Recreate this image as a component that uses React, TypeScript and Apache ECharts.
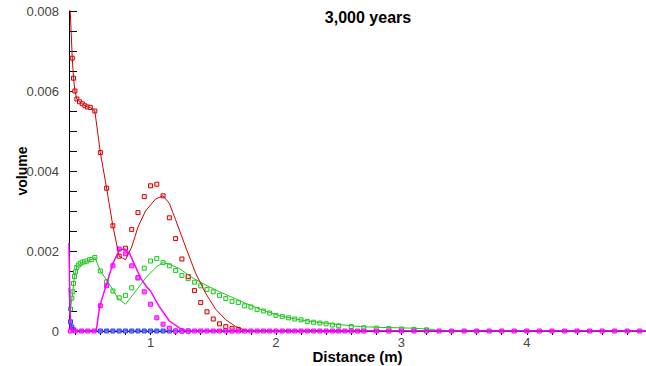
import React, { useEffect, useRef } from "react";
import * as echarts from "echarts";

const titleText = "3,000 years";
const xName = "Distance (m)";
const yName = "volume";
const xLabelValues = [1, 2, 3, 4];
const xTickValues = [0.4, 0.6, 0.8, 1.0, 1.2, 1.4, 1.6, 1.8, 2.0, 2.2, 2.4, 2.6, 2.8, 3.0, 3.2, 3.4, 3.6, 3.8, 4.0, 4.2, 4.4, 4.6, 4.8];

// red: model line and observed squares
const redLine: number[][] = [
  [0.352, 0.0086], [0.376, 0.00682], [0.386, 0.00632], [0.397, 0.006], [0.413, 0.0058], [0.434, 0.00573],
  [0.456, 0.00568], [0.477, 0.00563], [0.498, 0.0056], [0.52, 0.00559], [0.556, 0.0055], [0.6, 0.00446],
  [0.65, 0.00357], [0.7, 0.00262], [0.75, 0.00187], [0.8, 0.00178], [0.85, 0.0021], [0.9, 0.0026],
  [0.96, 0.003], [1.04, 0.0033], [1.1, 0.00338], [1.15, 0.00319], [1.2, 0.00278], [1.28, 0.0021],
  [1.36, 0.00144], [1.44, 0.00094], [1.52, 0.00054], [1.6, 0.00028], [1.68, 0.00011], [1.75, 0.00002],
  [1.8, 0], [4.95, 0],
];
const redPts: number[][] = [
  [0.376, 0.00682], [0.386, 0.00632], [0.397, 0.006], [0.413, 0.0058], [0.434, 0.00573], [0.456, 0.00568],
  [0.477, 0.00563], [0.498, 0.0056], [0.52, 0.00559], [0.556, 0.0055], [0.6, 0.00446], [0.65, 0.00357],
  [0.7, 0.00263], [0.75, 0.00187], [0.8, 0.00207], [0.85, 0.00254], [0.9, 0.00296], [0.95, 0.00336],
  [1.0, 0.00363], [1.05, 0.00367], [1.1, 0.00338], [1.15, 0.00283], [1.2, 0.00231], [1.25, 0.0018],
  [1.3, 0.00136], [1.35, 0.00101], [1.4, 0.00071], [1.45, 0.00048], [1.5, 0.0003], [1.55, 0.00018],
  [1.6, 0.00011], [1.65, 0.00006], [1.7, 0.00004],
];

// green
const greenLine: number[][] = [
  [0.352, 0.0004], [0.362, 0.00055], [0.373, 0.00082], [0.381, 0.00098], [0.386, 0.00119], [0.394, 0.00136],
  [0.402, 0.00148], [0.412, 0.00159], [0.426, 0.00165], [0.44, 0.00169], [0.456, 0.00172], [0.474, 0.00173],
  [0.492, 0.00175], [0.514, 0.00178], [0.532, 0.00179], [0.556, 0.00184], [0.6, 0.0015], [0.66, 0.00123],
  [0.74, 0.00082], [0.8, 0.00067], [0.89, 0.00103], [0.97, 0.00136], [1.05, 0.00161], [1.1, 0.00171],
  [1.15, 0.00167], [1.23, 0.00156], [1.34, 0.00132], [1.44, 0.00115], [1.55, 0.00098], [1.66, 0.00083],
  [1.76, 0.00069], [1.87, 0.00055], [2.03, 0.00038], [2.19, 0.00028], [2.35, 0.00021], [2.51, 0.00016],
  [2.67, 0.00011], [2.83, 0.00009], [2.98, 0.00008], [3.09, 0.00007], [3.25, 0.00004], [3.3, 0], [4.95, 0],
];
const greenPts: number[][] = [
  [0.362, 0.00055], [0.373, 0.00082], [0.381, 0.00098], [0.386, 0.00119], [0.394, 0.00136], [0.402, 0.00148],
  [0.412, 0.00159], [0.426, 0.00165], [0.44, 0.00169], [0.456, 0.00172], [0.474, 0.00173], [0.492, 0.00175],
  [0.514, 0.00178], [0.532, 0.00179], [0.556, 0.00184], [0.6, 0.0015], [0.65, 0.00123], [0.7, 0.001],
  [0.75, 0.00083], [0.8, 0.00089], [0.85, 0.00108], [0.9, 0.00133], [0.95, 0.00157], [1.0, 0.00175],
  [1.05, 0.00181], [1.1, 0.00171], [1.15, 0.00163], [1.2, 0.00151], [1.25, 0.00139], [1.3, 0.00131],
  [1.35, 0.00122], [1.4, 0.00113], [1.45, 0.00104], [1.5, 0.00098], [1.55, 0.00089], [1.6, 0.00081],
  [1.65, 0.00074], [1.7, 0.00071], [1.75, 0.00063], [1.8, 0.0006], [1.85, 0.00054], [1.9, 0.0005],
  [1.95, 0.00045], [2.0, 0.00039], [2.05, 0.00036], [2.1, 0.00033], [2.15, 0.0003], [2.2, 0.00028],
  [2.25, 0.00024], [2.3, 0.00022], [2.35, 0.0002], [2.4, 0.00018], [2.45, 0.00015], [2.5, 0.00013],
  [2.6, 0.00011], [2.7, 0.00008], [2.8, 0.00007], [2.9, 0.00006], [3.0, 0.00005], [3.1, 0.00004],
  [3.2, 0.00003],
];

// magenta
const magentaLine: number[][] = [
  [0.349, 0.0022], [0.355, 0.0012], [0.362, 0.0001], [0.37, 0], [0.567, 0], [0.594, 0.00061],
  [0.65, 0.00118], [0.7, 0.00169], [0.753, 0.00203], [0.793, 0.00205], [0.833, 0.00194], [0.92, 0.00133],
  [0.97, 0.0011], [1.0, 0.001], [1.07, 0.00061], [1.15, 0.00025], [1.23, 0.00008], [1.28, 0], [4.95, 0],
];
const magentaPts: number[][] = [
  [0.349, 0.0022], [0.36, 0], [0.4, 0], [0.45, 0], [0.5, 0], [0.55, 0], [0.6, 0.00063], [0.65, 0.00113],
  [0.7, 0.00163], [0.75, 0.00205], [0.8, 0.00193], [0.85, 0.00163], [0.9, 0.00133], [0.95, 0.00098],
  [1.0, 0.00067], [1.05, 0.00033], [1.1, 0.00017], [1.15, 0.00007], [1.2, 0], [1.25, 0], [1.3, 0],
  [1.35, 0], [1.4, 0], [1.45, 0], [1.5, 0], [1.55, 0], [1.6, 0], [1.65, 0], [1.7, 0], [1.75, 0], [1.8, 0],
  [1.85, 0], [1.9, 0], [1.95, 0], [2.0, 0], [2.05, 0], [2.1, 0], [2.15, 0], [2.2, 0], [2.25, 0], [2.3, 0],
  [2.35, 0], [2.4, 0], [2.45, 0], [2.5, 0], [2.55, 0], [2.6, 0], [2.65, 0], [2.7, 0], [2.8, 0], [2.9, 0],
  [3.0, 0], [3.1, 0], [3.2, 0], [3.3, 0], [3.4, 0], [3.5, 0], [3.6, 0], [3.7, 0], [3.8, 0], [3.9, 0],
  [4.0, 0], [4.1, 0], [4.2, 0], [4.3, 0], [4.4, 0], [4.5, 0], [4.6, 0], [4.7, 0], [4.8, 0], [4.9, 0],
];

// blue
const blueLine: number[][] = [
  [0.349, 0.00108], [0.362, 0.00023], [0.373, 0.0001], [0.4, 0], [4.95, 0],
];
const bluePts: number[][] = [
  [0.349, 0.00108], [0.362, 0.00023], [0.373, 0.0001], [0.386, 0.00003], [0.6, 0], [0.65, 0], [0.7, 0],
  [0.75, 0], [0.8, 0], [0.85, 0], [0.9, 0], [0.95, 0], [1.0, 0], [1.05, 0], [1.1, 0], [1.15, 0], [1.2, 0],
  [1.25, 0], [1.3, 0],
];

const RED = "#d40000";
const GREEN = "#22c422";
const MAGENTA = "#ff00ff";
const BLUE = "#2b3cf0";

function lineSeries(data: number[][], color: string, width = 1) {
  return {
    type: "line",
    data,
    showSymbol: false,
    symbol: "none",
    lineStyle: { color, width },
    itemStyle: { color },
    silent: true,
  };
}
function ptSeries(data: number[][], color: string, fill: string) {
  return {
    type: "scatter",
    data,
    symbol: "rect",
    symbolSize: 4,
    itemStyle: { color: fill, borderColor: color, borderWidth: 1, opacity: 1 },
    silent: true,
  };
}

export default function App() {
  const ref = useRef<HTMLDivElement>(null);
  useEffect(() => {
    document.body.style.margin = "0";
    const chart = echarts.init(ref.current!, null, { renderer: "svg" });
    const font = "'Liberation Sans', Arial, sans-serif";
    chart.setOption({
      animation: false,
      backgroundColor: "#ffffff",
      textStyle: { fontFamily: font },
      grid: { left: 69, top: 11, width: 577, height: 320, outerBoundsMode: "none", containLabel: false },
      graphic: [
        {
          type: "text",
          x: 368,
          y: 17,
          style: {
            text: titleText,
            font: "bold 16px 'Liberation Sans', Arial, sans-serif",
            fill: "#000",
            textAlign: "center",
            textVerticalAlign: "middle",
          },
        },
      ],
      xAxis: {
        type: "value",
        min: 0.35,
        max: 4.95,
        name: xName,
        nameLocation: "middle",
        nameGap: 18,
        nameMoveOverlap: false,
        nameTextStyle: { fontWeight: "bold", fontSize: 15, color: "#000", fontFamily: font },
        axisLine: { lineStyle: { color: "#000", width: 1 } },
        axisTick: { show: true, customValues: xTickValues, length: 4, lineStyle: { color: "#000", width: 1 } },
        axisLabel: { customValues: xLabelValues, color: "#444", fontSize: 13, margin: 5, fontFamily: font },
        splitLine: { show: false },
      },
      yAxis: {
        type: "value",
        min: 0,
        max: 0.008,
        interval: 0.002,
        name: yName,
        nameLocation: "middle",
        nameRotate: 90,
        nameGap: 40,
        nameMoveOverlap: false,
        nameTextStyle: { fontWeight: "bold", fontSize: 14, color: "#000", fontFamily: font },
        axisLine: { show: true, lineStyle: { color: "#000", width: 1 } },
        axisTick: { show: true, inside: true, length: 8, lineStyle: { color: "#000" } },
        minorTick: { show: true, splitNumber: 4, length: 8, lineStyle: { color: "#000" } },
        axisLabel: {
          color: "#444",
          fontSize: 13,
          margin: 10,
          fontFamily: font,
          formatter: (v: number) => (v === 0 ? "0" : v.toFixed(3)),
        },
        splitLine: { show: false },
      },
      series: [
        lineSeries(greenLine, GREEN),
        ptSeries(greenPts, GREEN, "#e4fae4"),
        lineSeries(redLine, RED),
        ptSeries(redPts, RED, "#fbe0e0"),
        lineSeries(blueLine, BLUE),
        ptSeries(bluePts, BLUE, "#8890ff"),
        lineSeries(magentaLine, MAGENTA, 1.5),
        ptSeries(magentaPts, MAGENTA, "#ff66ff"),
      ],
    });
    return () => chart.dispose();
  }, []);
  return <div ref={ref} style={{ width: 646, height: 366 }} />;
}
